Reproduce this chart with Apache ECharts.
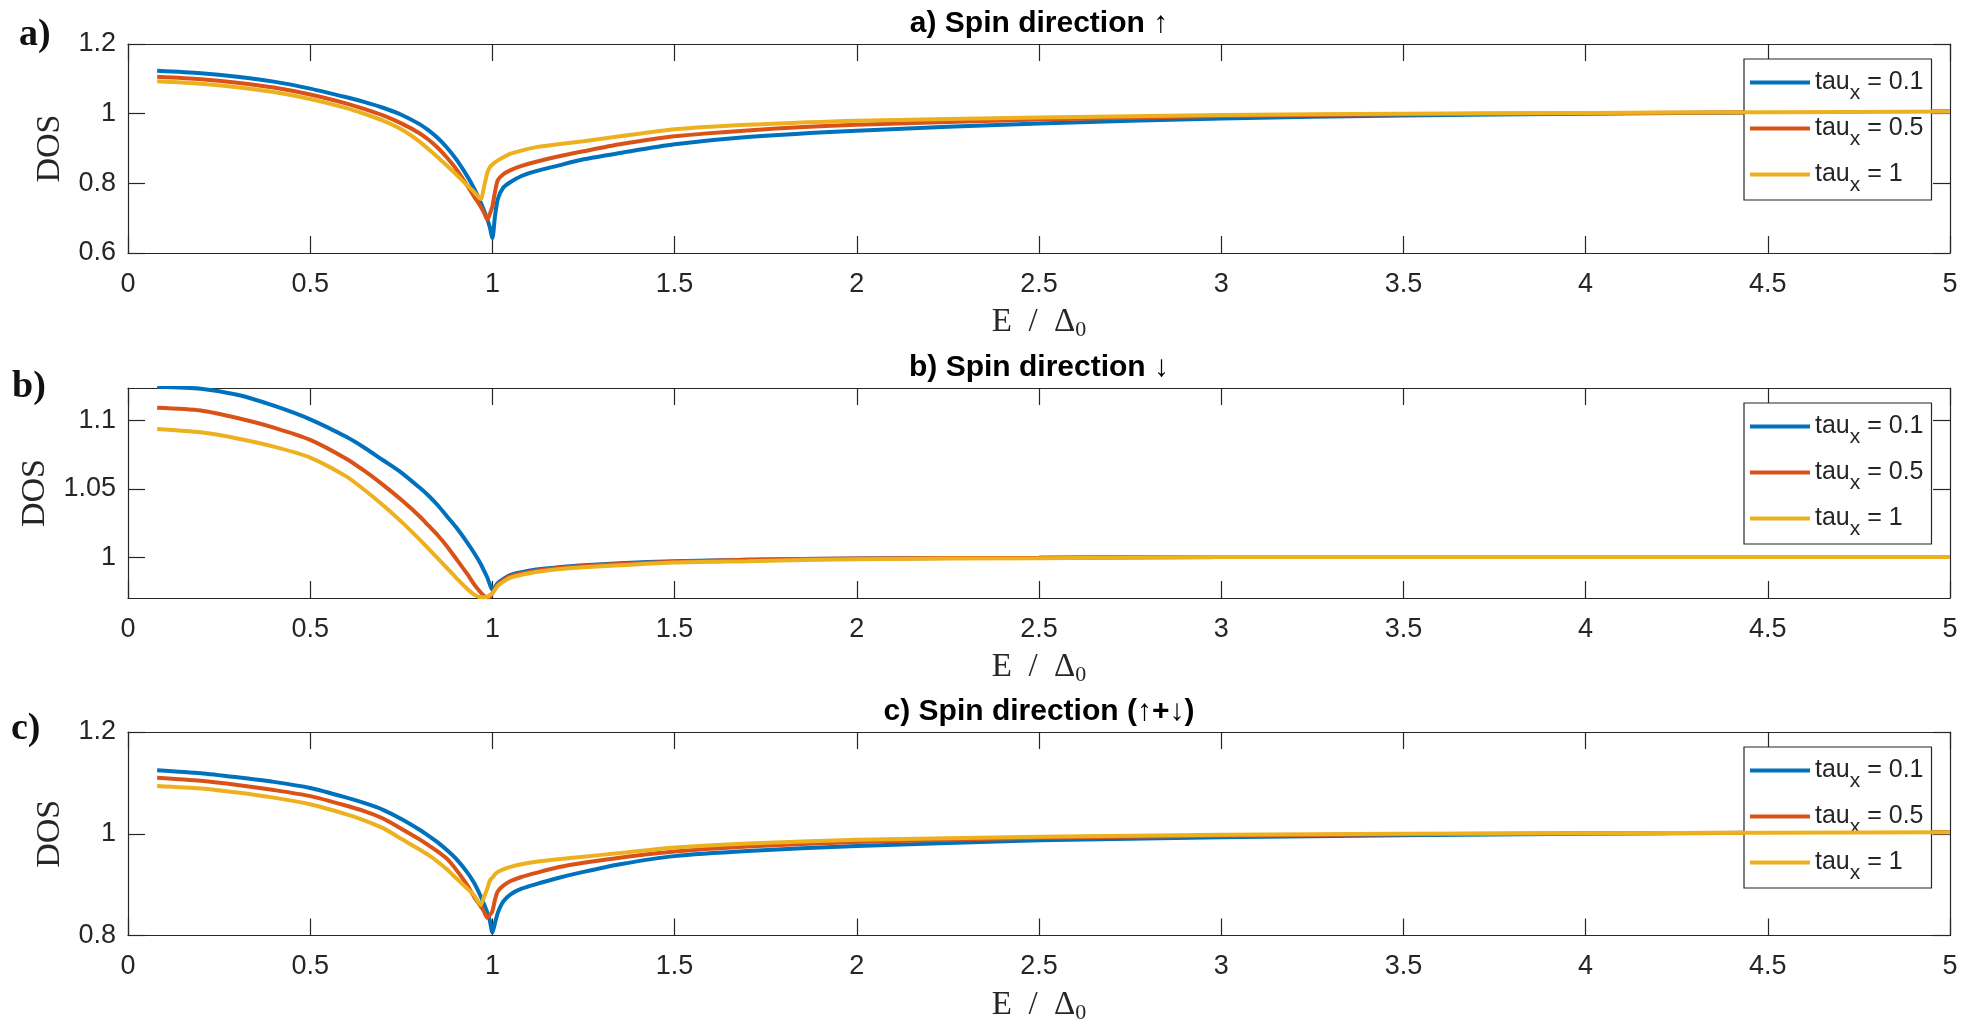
<!DOCTYPE html>
<html><head><meta charset="utf-8">
<script src="https://cdn.jsdelivr.net/npm/echarts@6/dist/echarts.min.js"></script>
<style>html,body{margin:0;padding:0;background:#fff}#c{width:1974px;height:1025px}</style>
</head><body><div id="c"></div>
<script>
// ---------- data ----------
const energy = [0.08,0.2,0.3,0.4,0.5,0.6,0.65,0.7,0.75,0.8,0.825,0.85,0.875,0.9,0.93,0.95,0.968,0.977,0.986,0.993,1.0,1.007,1.015,1.03,1.05,1.08,1.12,1.18,1.25,1.35,1.5,1.7,2.0,2.5,3.0,3.5,4.0,4.5,5.0];

const seriesNames = ['tau_x = 0.1','tau_x = 0.5','tau_x = 1'];

// a) spin up
const upTau01 = [1.123,1.116,1.106,1.092,1.072,1.047,1.033,1.017,0.997,0.970,0.952,0.930,0.903,0.870,0.822,0.785,0.745,0.722,0.697,0.674,0.643,0.705,0.755,0.788,0.804,0.821,0.835,0.851,0.869,0.887,0.912,0.933,0.951,0.972,0.986,0.995,1.000,1.003,1.006];
const upTau05 = [1.106,1.099,1.089,1.075,1.055,1.029,1.013,0.995,0.972,0.944,0.925,0.902,0.874,0.842,0.795,0.762,0.733,0.716,0.696,0.712,0.734,0.775,0.809,0.826,0.838,0.850,0.862,0.877,0.892,0.912,0.935,0.952,0.968,0.983,0.993,0.998,1.001,1.004,1.006];
const upTau1  = [1.093,1.086,1.076,1.062,1.042,1.016,0.999,0.980,0.955,0.920,0.898,0.875,0.851,0.826,0.795,0.775,0.755,0.790,0.830,0.846,0.854,0.860,0.866,0.875,0.885,0.894,0.904,0.912,0.921,0.935,0.955,0.968,0.980,0.989,0.996,1.000,1.002,1.004,1.006];

// b) spin down
const downTau01 = [1.125,1.1235,1.119,1.111,1.101,1.088,1.080,1.071,1.062,1.051,1.045,1.038,1.030,1.022,1.011,1.003,0.995,0.990,0.985,0.980,0.976,0.978,0.981,0.984,0.987,0.989,0.991,0.9925,0.994,0.9955,0.997,0.998,0.999,0.9995,1.0,1.0,1.0,1.0,1.0];
const downTau05 = [1.1095,1.1075,1.102,1.095,1.086,1.072,1.063,1.053,1.042,1.030,1.023,1.016,1.008,0.999,0.988,0.980,0.974,0.9715,0.9705,0.971,0.9735,0.977,0.980,0.983,0.986,0.988,0.990,0.992,0.9935,0.995,0.9965,0.998,0.999,0.9995,1.0,1.0,1.0,1.0,1.0];
const downTau1  = [1.094,1.0915,1.087,1.081,1.073,1.059,1.049,1.038,1.026,1.013,1.006,0.999,0.992,0.985,0.977,0.9725,0.9705,0.9705,0.971,0.972,0.9735,0.976,0.979,0.982,0.985,0.987,0.989,0.991,0.9925,0.994,0.996,0.997,0.9985,0.9992,1.0,1.0,1.0,1.0,1.0];

// c) spin up + down
const sumTau01 = [1.125,1.119,1.111,1.102,1.090,1.071,1.060,1.047,1.029,1.008,0.996,0.983,0.968,0.951,0.925,0.903,0.877,0.862,0.845,0.829,0.806,0.824,0.845,0.867,0.881,0.892,0.901,0.913,0.925,0.940,0.956,0.966,0.976,0.987,0.993,0.997,1.000,1.002,1.003];
const sumTau05 = [1.110,1.104,1.096,1.086,1.074,1.055,1.044,1.030,1.010,0.989,0.977,0.965,0.951,0.930,0.900,0.876,0.857,0.847,0.835,0.840,0.848,0.870,0.887,0.898,0.907,0.915,0.923,0.934,0.943,0.953,0.965,0.975,0.984,0.992,0.996,0.999,1.001,1.002,1.003];
const sumTau1  = [1.094,1.089,1.081,1.071,1.058,1.038,1.026,1.011,0.990,0.969,0.958,0.945,0.930,0.913,0.893,0.879,0.860,0.876,0.892,0.908,0.914,0.920,0.925,0.930,0.935,0.940,0.945,0.950,0.955,0.962,0.973,0.981,0.988,0.994,0.998,1.000,1.001,1.002,1.003];

// tick labels
const xTickStep = 0.5;
const yTicksA = [0.6,0.8,1,1.2];
const yTicksB = [1,1.05,1.1];
const yTicksC = [0.8,1,1.2];
const yRangeA = [0.6,1.2];
const yRangeB = [0.97,1.124];
const yRangeC = [0.8,1.2];

const titles = ['a) Spin direction \u2191','b) Spin direction \u2193','c) Spin direction (\u2191+\u2193)'];
const tags = ['a)','b)','c)'];

// ---------- layout / style ----------
const colors = ['#0072BD','#D95319','#EDB120'];
const axisColor = '#262626';
const plotLeft = 128, plotWidth = 1822;
const panels = [
  {top:44,  height:209, vals:[upTau01,upTau05,upTau1],       ticks:yTicksA, range:yRangeA, nameGap:60, tagTop:16},
  {top:388, height:210, vals:[downTau01,downTau05,downTau1], ticks:yTicksB, range:yRangeB, nameGap:74, tagTop:368},
  {top:732, height:210, vals:[sumTau01,sumTau05,sumTau1],    ticks:yTicksC, range:yRangeC, nameGap:60, tagTop:710}
];
const tagLeft = [19,12,11];

const grid = [], xAxis = [], yAxis = [], series = [], title = [], legend = [];
const lineAxis = {show:true, onZero:false, lineStyle:{color:axisColor, width:1.2}};
const tickStyle = {color:axisColor, width:1.2};
const sans = 'Liberation Sans, Arial, sans-serif';
const serif = 'Liberation Serif, Times New Roman, serif';

panels.forEach((p, i) => {
  grid.push({left:plotLeft, top:p.top, width:plotWidth, height:p.height, show:false});
  xAxis.push({type:'value', gridIndex:i, min:0, max:5, interval:xTickStep, position:'bottom',
    axisLine:lineAxis, axisTick:{show:true, inside:true, length:17, lineStyle:tickStyle},
    axisLabel:{color:axisColor, fontFamily:sans, fontSize:27, margin:18},
    splitLine:{show:false},
    name:'{n|E\u2002/\u2002\u0394}{s|0}', nameLocation:'middle', nameGap:53,
    nameTextStyle:{rich:{
      n:{fontFamily:serif, fontSize:33, color:axisColor, lineHeight:33},
      s:{fontFamily:serif, fontSize:22, color:axisColor, lineHeight:22, padding:[16,0,0,0]}
    }}
  });
  xAxis.push({type:'value', gridIndex:i, min:0, max:5, interval:xTickStep, position:'top',
    axisLine:lineAxis, axisTick:{show:true, inside:true, length:17, lineStyle:tickStyle},
    axisLabel:{show:false}, splitLine:{show:false}});
  yAxis.push({type:'value', gridIndex:i, min:p.range[0], max:p.range[1], position:'left',
    axisLine:lineAxis,
    axisTick:{show:true, inside:true, length:17, lineStyle:tickStyle, customValues:p.ticks},
    axisLabel:{color:axisColor, fontFamily:sans, fontSize:27, margin:12, customValues:p.ticks},
    splitLine:{show:false},
    name:'DOS', nameLocation:'middle', nameGap:p.nameGap, nameRotate:90,
    nameTextStyle:{fontFamily:serif, fontSize:34, color:axisColor}
  });
  yAxis.push({type:'value', gridIndex:i, min:p.range[0], max:p.range[1], position:'right',
    axisLine:lineAxis,
    axisTick:{show:true, inside:true, length:17, lineStyle:tickStyle, customValues:p.ticks},
    axisLabel:{show:false, customValues:p.ticks}, splitLine:{show:false}});

  p.vals.forEach((vals, k) => {
    series.push({type:'line', name:seriesNames[k], xAxisIndex:2*i, yAxisIndex:2*i,
      data: energy.map((e, j) => [e, vals[j]]),
      showSymbol:false, symbol:'none', smooth:0.25, clip:true,
      color:colors[k], lineStyle:{color:colors[k], width:4}, z:2+k, silent:true, animation:false});
  });

  title.push({text:titles[i], left:plotLeft + plotWidth/2, textAlign:'center', top:p.top - 35, padding:0,
    textStyle:{fontFamily:sans, fontWeight:'bold', fontSize:30, color:'#000'}});
  title.push({text:tags[i], left:tagLeft[i], top:p.tagTop, padding:0,
    textStyle:{fontFamily:serif, fontWeight:'bold', fontSize:38, color:'#111'}});

  legend.push({data:seriesNames, orient:'vertical', left:1744, top:p.top + 15,
    backgroundColor:'#fff', borderColor:axisColor, borderWidth:1.2, padding:[2,8,4,6],
    icon:'rect', itemWidth:60, itemHeight:4, itemGap:3, selectedMode:false,
    formatter: n => '{t|tau}{s|x}{t|' + n.split('tau_x')[1] + '}',
    textStyle:{rich:{
      t:{fontFamily:sans, fontSize:25, color:axisColor, lineHeight:26},
      s:{fontFamily:sans, fontSize:21, color:axisColor, lineHeight:20, padding:[22,0,0,0]}
    }}
  });
});

const chart = echarts.init(document.getElementById('c'), null, {renderer:'canvas'});
chart.setOption({backgroundColor:'#fff', animation:false, grid, xAxis, yAxis, series, title, legend});
</script>
</body></html>
